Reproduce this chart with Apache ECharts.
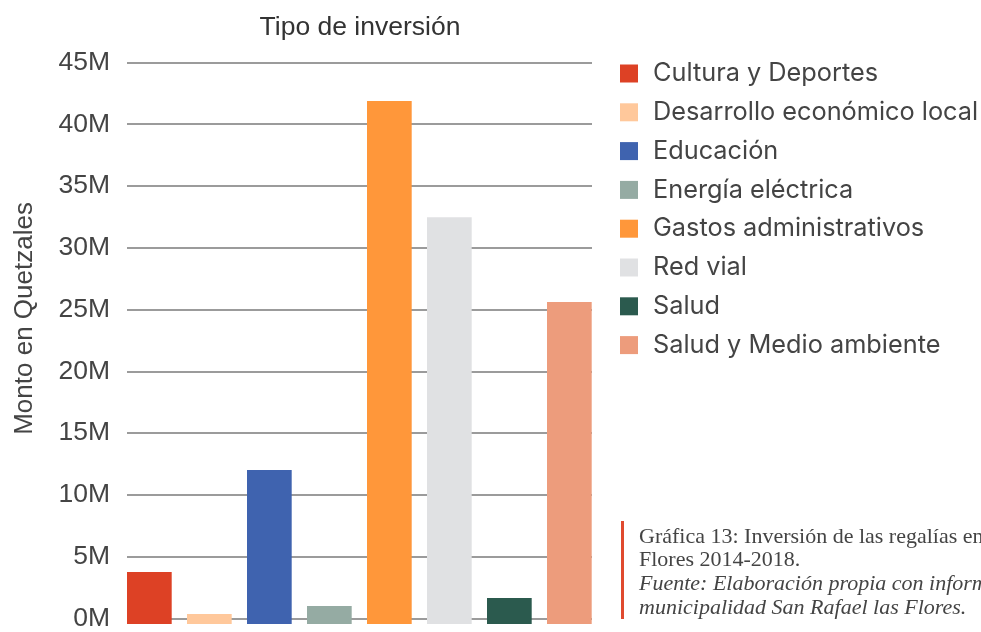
<!DOCTYPE html>
<html>
<head>
<meta charset="utf-8">
<script src="https://cdn.jsdelivr.net/npm/echarts@6/dist/echarts.min.js"></script>
<style>
  html, body { margin: 0; padding: 0; background: #fff; }
  #chart { width: 981px; height: 632px; }
</style>
</head>
<body>
<div id="chart"></div>
<script>
// categorias y montos (quetzales)
const categories = [
  'Cultura y Deportes',
  'Desarrollo económico local',
  'Educación',
  'Energía eléctrica',
  'Gastos administrativos',
  'Red vial',
  'Salud',
  'Salud y Medio ambiente'
];
const montos = [4170000, 800000, 12340000, 1440000, 41900000, 32600000, 2080000, 25800000];
const colores = ['#dd4125', '#ffc89b', '#3f63af', '#95aba3', '#ff973a', '#e0e1e3', '#2b5a4e', '#ed9c7c'];
const yTicks = { min: 0, max: 45000000, interval: 5000000 };

const chart = echarts.init(document.getElementById('chart'), null, { renderer: 'canvas' });

const series = categories.map((name, i) => ({
  name,
  type: 'bar',
  stack: 'total',
  xAxisIndex: 1,
  yAxisIndex: 1,
  barCategoryGap: '25.5%',
  itemStyle: { color: colores[i] },
  data: categories.map((c, j) => (j === i ? montos[i] : null))
}));

const sans = 'Liberation Sans';
const serif = '"Liberation Serif"';

chart.setOption({
  animation: false,
  title: {
    text: 'Tipo de inversión',
    left: 355,
    textAlign: 'center',
    top: 9,
    textStyle: { fontFamily: sans, fontWeight: 'normal', fontSize: 26.5, color: '#333' }
  },
  legend: {
    orient: 'vertical',
    left: 620,
    top: 61,
    padding: 0,
    itemWidth: 18,
    itemHeight: 18,
    itemGap: 13.8,
    icon: 'rect',
    data: categories,
    textStyle: { fontFamily: 'Inter', fontSize: 25.3, color: '#444', padding: [0, 0, 0, 10] }
  },
  grid: [
    { left: 127, top: 62.4, width: 465, height: 561.6 },
    { left: 119.35, top: 62.4, width: 480, height: 561.6 }
  ],
  xAxis: [
    { type: 'category', gridIndex: 0, data: categories, show: false },
    { type: 'category', gridIndex: 1, data: categories, show: false }
  ],
  yAxis: [
    {
      type: 'value',
      gridIndex: 0,
      min: yTicks.min,
      max: yTicks.max,
      interval: yTicks.interval,
      name: 'Monto en Quetzales',
      nameLocation: 'middle',
      nameRotate: 90,
      nameGap: 89,
      nameTextStyle: { fontFamily: sans, fontSize: 26, color: '#444', padding: [0, 0, 0, 44] },
      axisLine: { show: false },
      axisTick: { show: false },
      axisLabel: {
        margin: 17,
        fontFamily: sans,
        fontSize: 26.5,
        color: '#444',
        formatter: v => (v / 1000000) + 'M'
      },
      splitLine: { show: true, lineStyle: { color: '#7a7a7a', width: 1.5 } }
    },
    {
      type: 'value',
      gridIndex: 1,
      min: yTicks.min,
      max: yTicks.max,
      interval: yTicks.interval,
      show: false,
      splitLine: { show: false }
    }
  ],
  graphic: [
    { type: 'rect', left: 621, top: 521, shape: { width: 3, height: 98 }, style: { fill: '#e04a2f' } },
    {
      type: 'text', left: 639, top: 526,
      style: { text: 'Gráfica 13: Inversión de las regalías en San Rafael las', font: '22px ' + serif, fill: '#444' }
    },
    {
      type: 'text', left: 639, top: 549,
      style: { text: 'Flores 2014-2018.', font: '22px ' + serif, fill: '#444' }
    },
    {
      type: 'text', left: 639, top: 573,
      style: { text: 'Fuente: Elaboración propia con información de la', font: 'italic 22px ' + serif, fill: '#444' }
    },
    {
      type: 'text', left: 639, top: 597,
      style: { text: 'municipalidad San Rafael las Flores.', font: 'italic 22px ' + serif, fill: '#444' }
    }
  ],
  series
});

window.addEventListener('resize', () => chart.resize());
</script>
</body>
</html>
